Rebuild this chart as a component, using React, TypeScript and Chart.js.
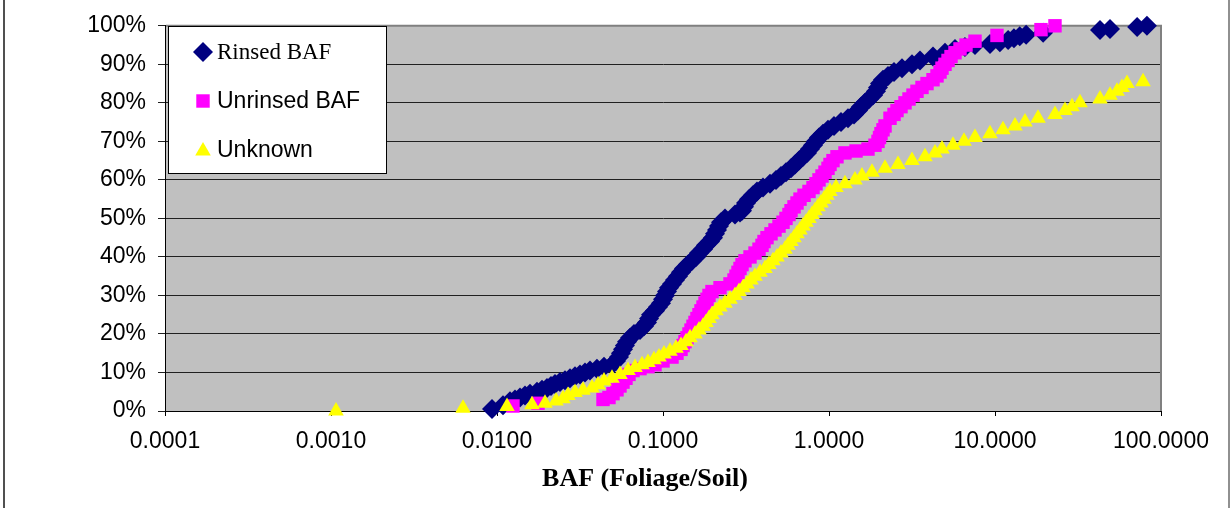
import React, { useEffect, useRef } from "react";
import { Chart, registerables } from "chart.js";
import { drawPoint } from "chart.js/helpers";

Chart.register(...registerables);

// ---- Data (BAF value, cumulative percent) ----
const rinsedX = [
  0.00933, 0.01087, 0.01198, 0.01284, 0.01376, 0.01475, 0.0158, 0.01742, 0.01867, 0.02, 0.02115, 0.02235,
  0.02396, 0.02568, 0.02753, 0.02951, 0.03162, 0.03389, 0.03633, 0.04, 0.0441, 0.0493, 0.0521, 0.0543,
  0.0558, 0.0574, 0.059, 0.0607, 0.0633, 0.0669, 0.0727, 0.0768, 0.0801, 0.0824, 0.0847, 0.0895,
  0.0933, 0.0973, 0.1, 0.1028, 0.1057, 0.1087, 0.1133, 0.1181, 0.1231, 0.1284, 0.1338, 0.1414,
  0.1495, 0.158, 0.1648, 0.1742, 0.1816, 0.1919, 0.2001, 0.2057, 0.2115, 0.2175, 0.2236, 0.2364,
  0.2715, 0.291, 0.2992, 0.3076, 0.3162, 0.3298, 0.3486, 0.3685, 0.4004, 0.4412, 0.4794, 0.5138,
  0.5508, 0.5904, 0.6241, 0.6598, 0.6974, 0.7372, 0.7684, 0.8011, 0.8351, 0.8706, 0.9203, 0.9862,
  1.072, 1.181, 1.302, 1.415, 1.495, 1.559, 1.648, 1.742, 1.842, 1.919, 1.973, 2.029,
  2.115, 2.267, 2.464, 2.753, 3.162, 3.534, 4.232, 4.999, 5.74, 6.59, 7.58, 9.33,
  10.7, 12.0, 13.0, 14.1, 15.4, 19.5, 42.9, 49.3, 71.8, 82.3,
];
const rinsedY = [
  0.5, 1.5, 2.5, 3, 3.5, 4, 4.5, 5, 5.5, 6, 6.5, 7,
  7.5, 8, 8.5, 9, 9.5, 10, 10.5, 11, 11.5, 12, 13, 14,
  15, 16, 17, 18, 19, 20, 21, 22, 23, 24, 25, 26,
  27, 28, 29, 30, 31, 32, 33, 34, 35, 36, 37, 38,
  39, 40, 41, 42, 43, 44, 45, 46, 47, 48, 49, 50,
  51, 51.5, 52, 53, 54, 55, 56, 57, 58, 59, 60, 61,
  62, 63, 64, 65, 66, 67, 68, 69, 70, 71, 72, 73,
  74, 75, 76, 77, 78, 79, 80, 81, 82, 83, 84, 85,
  86, 87, 88, 89, 90, 91, 92, 93, 94, 94.5, 95, 95.3,
  95.7, 96.3, 96.8, 97.3, 97.7, 98.2, 98.9, 99.2, 99.7, 100,
];

const unrinsedX = [
  0.01248, 0.01766, 0.04351, 0.04727, 0.04998, 0.05284, 0.05508, 0.05741, 0.05985, 0.0624, 0.06598, 0.07268,
  0.08121, 0.0895, 0.1, 0.1133, 0.1214, 0.1284, 0.132, 0.1357, 0.1395, 0.1434, 0.1475, 0.1516,
  0.1559, 0.1602, 0.1648, 0.1694, 0.1742, 0.1791, 0.1841, 0.1893, 0.1973, 0.2205, 0.2533, 0.2678,
  0.2753, 0.283, 0.291, 0.2992, 0.3119, 0.3343, 0.3584, 0.3788, 0.3949, 0.406, 0.4232, 0.4474,
  0.4729, 0.4999, 0.5284, 0.5508, 0.5741, 0.5904, 0.6155, 0.6417, 0.6689, 0.7071, 0.7577, 0.8011,
  0.8351, 0.8706, 0.9075, 0.9461, 0.9862, 1.014, 1.057, 1.117, 1.248, 1.455, 1.717, 1.893,
  1.973, 2.015, 2.057, 2.115, 2.175, 2.331, 2.464, 2.568, 2.715, 2.87, 3.034, 3.207,
  3.389, 3.633, 3.894, 4.232, 4.474, 4.665, 4.795, 4.999, 5.212, 5.433, 5.741, 6.155,
  6.689, 7.577, 10.28, 18.93, 22.98,
];
const unrinsedY = [
  1.3, 2, 3, 3.5, 4.5, 5.5, 6.5, 7.5, 8.5, 9.5, 10.5, 11,
  11.5, 12, 13, 14, 15, 16, 17, 18, 19, 20, 21, 22,
  23, 24, 25, 26, 27, 28, 29, 30, 31, 32, 33, 34,
  35, 36, 37, 38, 39, 40, 41, 42, 43, 44, 45, 46,
  47, 48, 49, 50, 51, 52, 53, 54, 55, 56, 57, 58,
  59, 60, 61, 62, 63, 64, 65, 66, 67, 67.5, 68, 69,
  70, 71, 72, 73, 74, 76, 77, 78, 79, 80, 81, 82,
  83, 84, 85, 86, 87, 88, 89, 90, 91, 92, 93, 94,
  95, 96, 97.5, 99, 100,
];

const unknownX = [
  0.001072, 0.00624, 0.01149, 0.01625, 0.01946, 0.02267, 0.02498, 0.02677, 0.02951, 0.03297, 0.03736, 0.0406,
  0.04411, 0.0493, 0.05508, 0.06155, 0.06784, 0.07473, 0.08121, 0.08826, 0.09461, 0.1014, 0.1102, 0.1198,
  0.1284, 0.1376, 0.1455, 0.1559, 0.1648, 0.1742, 0.1816, 0.1893, 0.1973, 0.2086, 0.2205, 0.2364,
  0.2533, 0.2715, 0.287, 0.3034, 0.3207, 0.3389, 0.3584, 0.384, 0.4116, 0.4351, 0.4599, 0.4862,
  0.5138, 0.5432, 0.5662, 0.5904, 0.6155, 0.6417, 0.6689, 0.6974, 0.7268, 0.7577, 0.79, 0.8235,
  0.8585, 0.895, 0.9331, 0.9727, 1.014, 1.102, 1.248, 1.434, 1.58, 1.816, 2.175, 2.604,
  3.162, 3.788, 4.351, 4.795, 5.585, 6.506, 7.577, 9.331, 11.17, 13.2, 15.16, 18.16,
  22.98, 26.41, 29.1, 32.51, 42.91, 49.3, 54.33, 58.23, 62.41, 77.93,
];
const unknownY = [
  0, 0.7, 1.2, 1.6, 2, 2.6, 3.2, 4, 4.8, 5.4, 6, 6.8,
  7.8, 8.5, 9.5, 10.5, 11.3, 12, 12.6, 13.3, 14, 14.8, 15.5, 16.3,
  17, 18, 19, 20, 21, 22, 23, 24, 25, 26, 27, 28,
  29, 30, 31, 32, 33, 34, 35, 36, 37, 38, 39, 40,
  41, 42, 43, 44, 45, 46, 47, 48, 49, 50, 51, 52,
  53, 54, 55, 56, 57, 58, 59, 60, 61, 62, 63, 64,
  65, 66, 67, 68, 69, 70, 71, 72, 73, 74, 75, 76,
  77, 78, 79, 80, 81, 82, 83, 84, 85, 85.5,
];

const xTicks = [0.0001, 0.001, 0.01, 0.1, 1, 10, 100];
const yTicks = [0, 10, 20, 30, 40, 50, 60, 70, 80, 90, 100];
const seriesNames = ["Rinsed BAF", "Unrinsed BAF", "Unknown"];
const xTitle = "BAF (Foliage/Soil)";

const toPoints = (xs: number[], ys: number[]) => xs.map((x, i) => ({ x, y: ys[i] }));

const SANS = "'Liberation Sans', Arial, sans-serif";
const SERIF = "'Liberation Serif', 'Times New Roman', serif";

const styles = [
  { color: "#000080", pointStyle: "rectRot", radius: 10, font: SERIF },
  { color: "#FF00FF", pointStyle: "rect", radius: 9.5, font: SANS },
  { color: "#FFFF00", pointStyle: "triangle", radius: 9, font: SANS },
];

const decorPlugin = {
  id: "decor",
  beforeDraw(chart: any) {
    const { ctx, chartArea: a, width, height } = chart;
    ctx.save();
    ctx.fillStyle = "#ffffff";
    ctx.fillRect(0, 0, width, height);
    ctx.fillStyle = "#C0C0C0";
    ctx.fillRect(a.left, a.top, a.right - a.left, a.bottom - a.top);
    // outer frame lines
    ctx.fillStyle = "#505050";
    ctx.fillRect(3, 0, 2, height);
    ctx.fillStyle = "#909090";
    ctx.fillRect(1228, 0, 2, height);
    ctx.restore();
  },
  beforeDatasetsDraw(chart: any) {
    const { ctx, chartArea: a } = chart;
    ctx.save();
    ctx.strokeStyle = "#808080";
    ctx.lineWidth = 2;
    ctx.beginPath();
    ctx.moveTo(a.left + 1, a.top);
    ctx.lineTo(a.right, a.top);
    ctx.lineTo(a.right, a.bottom);
    ctx.stroke();
    ctx.restore();
  },
  afterDraw(chart: any) {
    const { ctx } = chart;
    ctx.save();
    // legend box
    const bx = 168.5, by = 26.5, bw = 218, bh = 147;
    ctx.fillStyle = "#ffffff";
    ctx.fillRect(bx, by, bw, bh);
    ctx.strokeStyle = "#000000";
    ctx.lineWidth = 1;
    ctx.strokeRect(bx, by, bw, bh);
    const rowsMarkerY = [52, 101, 151];
    const rowsTextY = [59, 108, 157];
    seriesNames.forEach((name, i) => {
      const s = styles[i];
      ctx.fillStyle = s.color;
      drawPoint(ctx, { pointStyle: s.pointStyle as any, radius: s.radius, rotation: 0, borderWidth: 0 }, 203, rowsMarkerY[i]);
      ctx.fillStyle = "#000000";
      ctx.font = `23px ${s.font}`;
      ctx.textAlign = "left";
      ctx.textBaseline = "alphabetic";
      ctx.fillText(name, 217, rowsTextY[i]);
    });
    // x axis title
    ctx.fillStyle = "#000000";
    ctx.font = `bold 26px ${SERIF}`;
    ctx.textAlign = "center";
    ctx.textBaseline = "alphabetic";
    ctx.fillText(xTitle, 645, 486);
    ctx.restore();
  },
};

export default function App() {
  const ref = useRef<HTMLCanvasElement | null>(null);
  useEffect(() => {
    if (!ref.current) return;
    const series = [
      toPoints(rinsedX, rinsedY),
      toPoints(unrinsedX, unrinsedY),
      toPoints(unknownX, unknownY),
    ];
    const chart = new Chart(ref.current, {
      type: "scatter",
      data: {
        datasets: series.map((pts, i) => ({
          label: seriesNames[i],
          data: pts,
          showLine: false,
          pointStyle: styles[i].pointStyle as any,
          pointRadius: styles[i].radius,
          pointHoverRadius: styles[i].radius,
          pointBackgroundColor: styles[i].color,
          pointBorderWidth: 0,
          pointBorderColor: styles[i].color,
          backgroundColor: styles[i].color,
          borderColor: styles[i].color,
          order: 2 - i,
          clip: false as any,
        })),
      },
      options: {
        animation: false,
        responsive: false,
        maintainAspectRatio: false,
        events: [],
        layout: { padding: { left: 0, right: 71, top: 18, bottom: 0 } },
        plugins: {
          legend: { display: false },
          tooltip: { enabled: false },
          title: { display: false },
        },
        scales: {
          x: {
            type: "logarithmic",
            position: "bottom",
            min: 0.0001,
            max: 100,
            afterBuildTicks: (s: any) => {
              s.ticks = xTicks.map((v) => ({ value: v }));
            },
            afterFit: (s: any) => {
              s.height = 97;
            },
            ticks: {
              autoSkip: false,
              maxRotation: 0,
              minRotation: 0,
              padding: 12,
              color: "#000000",
              font: { family: SANS, size: 23 },
              callback: (v: any) => Number(v).toFixed(4),
            },
            grid: { drawOnChartArea: false, drawTicks: true, tickLength: 5, color: "#000000", lineWidth: 1 },
            border: { display: true, color: "#000000", width: 1 },
          },
          y: {
            type: "linear",
            min: 0,
            max: 100,
            afterBuildTicks: (s: any) => {
              s.ticks = yTicks.map((v) => ({ value: v }));
            },
            afterFit: (s: any) => {
              s.width = 165;
            },
            ticks: {
              padding: 12,
              color: "#000000",
              font: { family: SANS, size: 23 },
              callback: (v: any) => `${v}%`,
            },
            grid: { drawTicks: true, tickLength: 7, color: "#202020", lineWidth: 1 },
            border: { display: true, color: "#000000", width: 1 },
          },
        },
      },
      plugins: [decorPlugin],
    });
    return () => chart.destroy();
  }, []);
  return (
    <div style={{ position: "fixed", left: 0, top: 0, width: 1232, height: 508, background: "#fff" }}>
      <canvas ref={ref} width={1232} height={508} style={{ display: "block" }} />
    </div>
  );
}
